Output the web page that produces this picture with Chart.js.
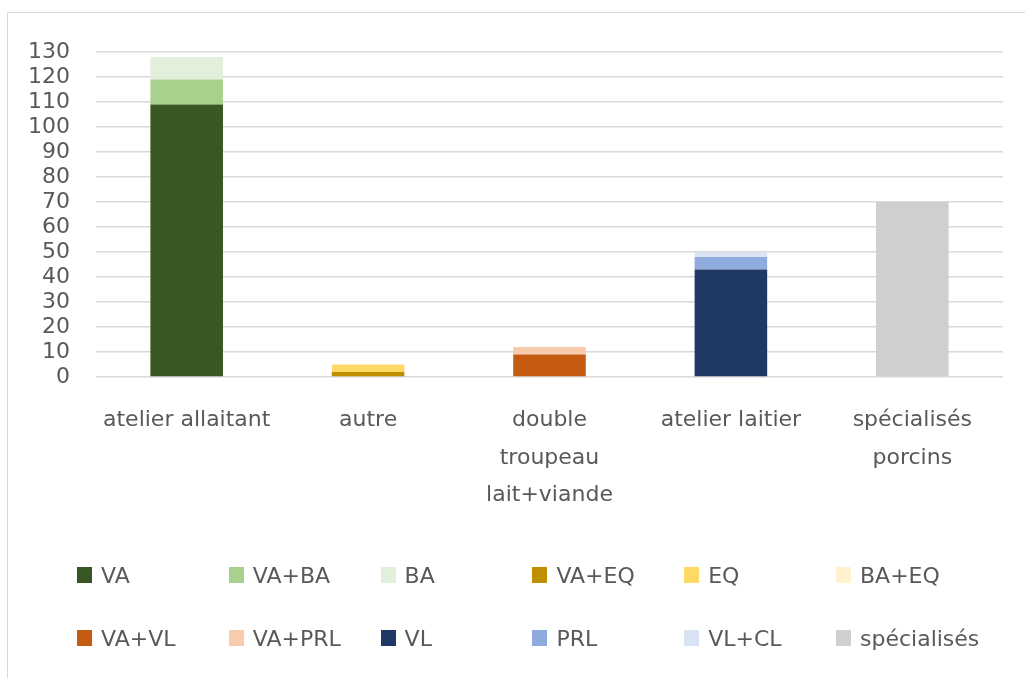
<!DOCTYPE html>
<html>
<head>
<meta charset="utf-8">
<script src="https://cdn.jsdelivr.net/npm/chart.js@4/dist/chart.umd.min.js"></script>
<style>
  html, body { margin:0; padding:0; background:#fff; }
  .wrap { position:relative; width:1025px; height:678px; overflow:hidden; }
  .frame { position:absolute; left:7px; top:12px; width:1100px; height:800px;
           border-left:1px solid #d9d9d9; border-top:1px solid #d9d9d9; }
  .chart-box { position:absolute; left:0; top:0; width:1025px; height:678px; }
  .legend { position:absolute; left:77px; top:561px; display:grid;
            grid-template-columns:repeat(6, 151.8px); grid-auto-rows:63px;
            font-family:"DejaVu Sans", sans-serif; font-size:22px; color:#595959; }
  .legend-item { display:flex; align-items:center; height:28px; white-space:nowrap; }
  .legend-box { width:15px; height:16px; margin-right:9px; flex:none; }
</style>
</head>
<body>
<div class="wrap">
  <div class="frame"></div>
  <div class="chart-box"><canvas id="chart"></canvas></div>
  <div class="legend" id="legend"></div>
</div>
<script>
/* DATA */
const categories = [
  "atelier allaitant",
  "autre",
  ["double", "troupeau", "lait+viande"],
  "atelier laitier",
  ["spécialisés", "porcins"]
];
const seriesNames = ["VA", "VA+BA", "BA", "VA+EQ", "EQ", "BA+EQ",
                     "VA+VL", "VA+PRL", "VL", "PRL", "VL+CL", "spécialisés"];
const vaValues          = [109, 0, 0, 0, 0];
const vaBaValues        = [10, 0, 0, 0, 0];
const baValues          = [9, 0, 0, 0, 0];
const vaEqValues        = [0, 2, 0, 0, 0];
const eqValues          = [0, 3, 0, 0, 0];
const baEqValues        = [0, 0, 0, 0, 0];
const vaVlValues        = [0, 0, 9, 0, 0];
const vaPrlValues       = [0, 0, 3, 0, 0];
const vlValues          = [0, 0, 0, 43, 0];
const prlValues         = [0, 0, 0, 5, 0];
const vlClValues        = [0, 0, 0, 2, 0];
const specialisesValues = [0, 0, 0, 0, 70];
const seriesColors = ["#385723", "#a9d18e", "#e2efda", "#bf8f00", "#ffd966", "#fff2cc",
                      "#c55a11", "#f8cbad", "#203864", "#8faadc", "#dae3f3", "#d0cece"];
const yTicks = [0, 10, 20, 30, 40, 50, 60, 70, 80, 90, 100, 110, 120, 130];

const allValues = [vaValues, vaBaValues, baValues, vaEqValues, eqValues, baEqValues,
                   vaVlValues, vaPrlValues, vlValues, prlValues, vlClValues, specialisesValues];

const TEXT = "#595959";
const FONT = "'DejaVu Sans', sans-serif";

const datasets = seriesNames.map((name, i) => ({
  label: name,
  data: allValues[i],
  backgroundColor: seriesColors[i],
  borderWidth: 0,
  barPercentage: 0.4,
  categoryPercentage: 1
}));

const chart = new Chart(document.getElementById("chart"), {
  type: "bar",
  data: { labels: categories, datasets: datasets },
  options: {
    responsive: true,
    maintainAspectRatio: false,
    animation: false,
    layout: { padding: { top: 52, right: 22, left: 0, bottom: 0 } },
    plugins: { legend: { display: false }, tooltip: { enabled: false } },
    scales: {
      x: {
        stacked: true,
        grid: { display: false, drawTicks: false },
        border: { display: false },
        ticks: { color: TEXT, padding: 25, maxRotation: 0, autoSkip: false,
                 font: { family: FONT, size: 22, lineHeight: 1.7 } },
        afterFit: s => { s.height = 678 - 377; }
      },
      y: {
        stacked: true,
        min: 0, max: yTicks[yTicks.length - 1],
        afterBuildTicks: s => { s.ticks = yTicks.map(v => ({ value: v })); },
        grid: { color: "#d9d9d9", lineWidth: 1.5, drawTicks: false },
        border: { display: false },
        ticks: { color: TEXT, padding: 26, autoSkip: false,
                 font: { family: FONT, size: 22, lineHeight: 1 } },
        afterFit: s => { s.width = 96; }
      }
    }
  }
});

/* LEGEND */
const legendDiv = document.getElementById("legend");
chart.data.datasets.forEach(ds => {
  const item = document.createElement("div");
  item.className = "legend-item";
  item.innerHTML = `<span class="legend-box" style="background:${ds.backgroundColor}"></span><span>${ds.label}</span>`;
  legendDiv.appendChild(item);
});
</script>
</body>
</html>
